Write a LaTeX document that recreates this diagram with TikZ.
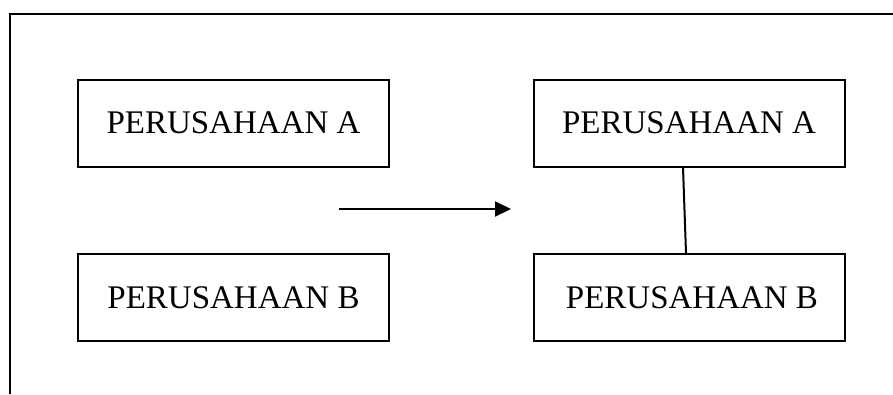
\documentclass[tikz,border=0pt]{standalone}
\usepackage{fontspec}
\setmainfont{Liberation Serif}
\usetikzlibrary{arrows.meta}
\begin{document}
\begin{tikzpicture}[x=1pt,y=-1pt,
  box/.style={draw,line width=2pt,minimum width=311pt,minimum height=87pt,inner sep=0pt,font=\fontsize{33}{38}\selectfont},
  conn/.style={line width=2pt}]
\useasboundingbox (0,0) rectangle (893,394);
\draw[line width=2pt] (893,14) -- (9.5,14) -- (9.5,394);
\node[box] (a1) at (233.5,123) {PERUSAHAAN A};
\node[box] (b1) at (233.5,297.5) {PERUSAHAAN B};
\node[box] (a2) at (689,123) {PERUSAHAAN A};
\node[box] (b2) at (689,297.5) {\hspace{6pt}PERUSAHAAN B};
\coordinate (s) at (339,209);
\coordinate (e) at (511,209);
\draw[conn,-{Triangle[length=16pt,width=15pt]}] (s) -- (e);
\draw[conn] ([xshift=-6pt]a2.south) -- ([xshift=-3pt]b2.north);
\end{tikzpicture}
\end{document}
